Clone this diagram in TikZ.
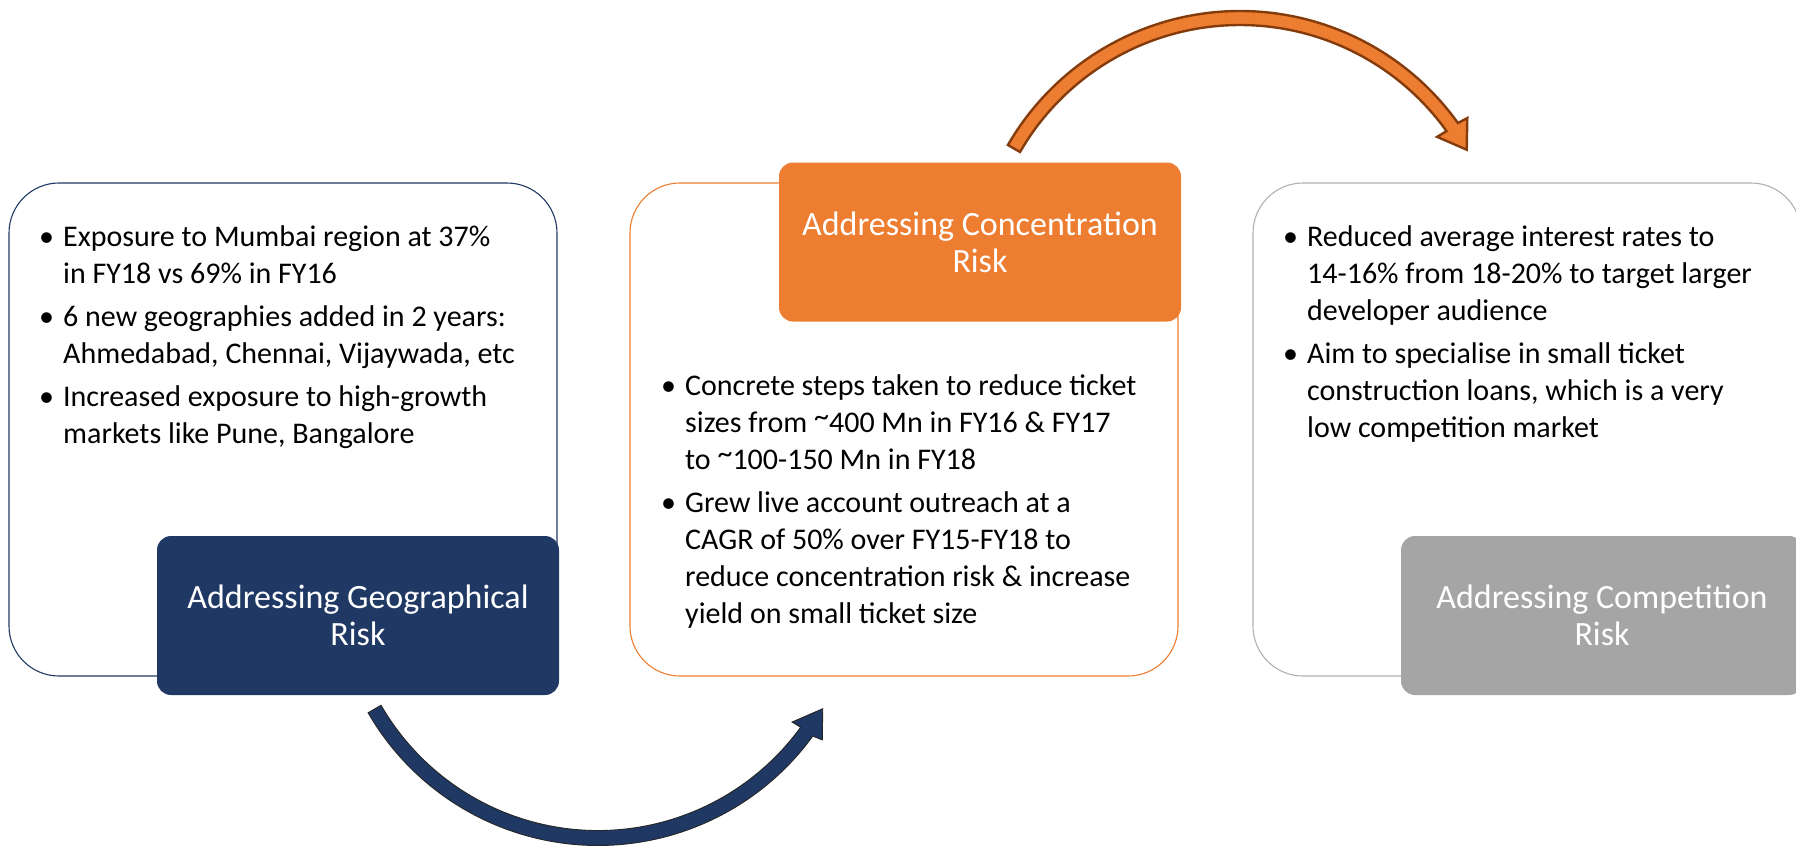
\documentclass[tikz,border=0pt]{standalone}
\usepackage{fontspec}
\setmainfont{Carlito}
\usepackage{array}
\usetikzlibrary{calc}
\definecolor{navy}{HTML}{203864}
\definecolor{orng}{HTML}{ED7D31}
\definecolor{orngdark}{HTML}{843C0C}
\definecolor{greyfill}{HTML}{A5A5A5}
\definecolor{greyline}{HTML}{B0B0B0}
\newcommand{\bodyfont}{\fontsize{30}{37}\selectfont}
\newcommand{\titlefont}{\fontsize{34}{37}\selectfont}
\newcommand{\rtilde}{\raisebox{0.2em}{\textasciitilde}}
\begin{document}
\begin{tikzpicture}[x=1pt,y=-1pt,
  outerbox/.style={rounded corners=50pt, line width=1.1pt, minimum width=548pt, minimum height=493pt, inner sep=0pt},
  labelbox/.style={rounded corners=14pt, text=white, align=center, font=\titlefont, inner sep=0pt, minimum width=402pt, minimum height=159pt},
  bodytext/.style={anchor=north west, inner sep=0pt, font=\bodyfont},
  blockarrow/.style={line join=miter}
]
\useasboundingbox (0,0) rectangle (1796,846);
\clip (0,0) rectangle (1796,846);

% outer boxes
\node[outerbox, draw=navy] (box1) at (283,429.5) {};
\node[outerbox, draw=orng] (box2) at (904,429.5) {};
\node[outerbox, draw=greyline] (box3) at (1527,429.5) {};

% body texts
\node[bodytext] (t1) at (39,220) {\begin{tabular}{@{}p{24pt}@{}l@{}}
\textbullet & Exposure to Mumbai region at 37\% \\
 & in FY18 vs 69\% in FY16 \\[6pt]
\textbullet & 6 new geographies added in 2 years: \\
 & Ahmedabad, Chennai, Vijaywada, etc \\[6pt]
\textbullet & Increased exposure to high-growth \\
 & markets like Pune, Bangalore
\end{tabular}};

\node[bodytext] (t2) at (661,369) {\begin{tabular}{@{}p{24pt}@{}l@{}}
\textbullet & Concrete steps taken to reduce ticket \\
 & sizes from \rtilde400 Mn in FY16 \& FY17 \\
 & to \rtilde100-150 Mn in FY18 \\[6pt]
\textbullet & Grew live account outreach at a \\
 & CAGR of 50\% over FY15-FY18 to \\
 & reduce concentration risk \& increase \\
 & yield on small ticket size
\end{tabular}};

\node[bodytext] (t3) at (1283,220) {\begin{tabular}{@{}p{24pt}@{}l@{}}
\textbullet & Reduced average interest rates to \\
 & 14-16\% from 18-20\% to target larger \\
 & developer audience \\[6pt]
\textbullet & Aim to specialise in small ticket \\
 & construction loans, which is a very \\
 & low competition market
\end{tabular}};

% labels
\node[labelbox, fill=navy] (lab1) at (358,615.5) {Addressing Geographical\\Risk};
\node[labelbox, fill=orng] (lab2) at (980,242) {Addressing Concentration\\Risk};
\node[labelbox, fill=greyfill] (lab3) at (1602,615.5) {Addressing Competition\\Risk};

% arrow centres
\coordinate (bc) at (598,580);
\coordinate (oc) at (1240,279);

% bottom navy arrow (lab1 -> box2)
\filldraw[blockarrow, fill=navy, draw=black!85, line width=0.9pt]
  ($(bc)+(150:265.5)$) arc[start angle=150, end angle=36, radius=265.5]
  -- ($(bc)+(35.5:275.5)$) -- ($(bc)+(29.8:259)$) -- ($(bc)+(36.2:240.5)$)
  -- ($(bc)+(36:250.5)$) arc[start angle=36, end angle=150, radius=250.5] -- cycle;

% top orange arrow (lab2 -> box3)
\filldraw[blockarrow, fill=orng, draw=orngdark, line width=2.4pt]
  ($(oc)+(210:268)$) arc[start angle=210, end angle=324.4, radius=268]
  -- ($(oc)+(324.7:278.5)$) -- ($(oc)+(330.3:261)$) -- ($(oc)+(324.2:243)$)
  -- ($(oc)+(324.4:254)$) arc[start angle=324.4, end angle=210, radius=254] -- cycle;
\end{tikzpicture}
\end{document}
